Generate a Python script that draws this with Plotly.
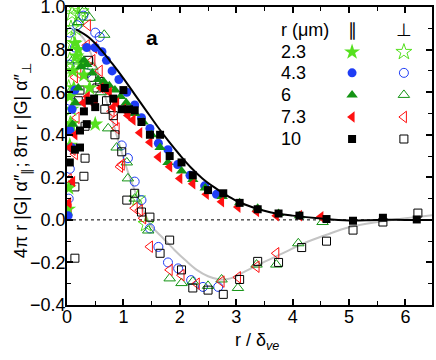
#--------------------- Packages
import plotly.graph_objects as go

#--------------------- Data
# theory curves
par_curve_x = [0.16, 0.4, 0.6, 0.8, 1.0, 1.2, 1.4, 1.6, 1.8, 2.0, 2.2, 2.4, 2.6, 2.8, 3.0, 3.3, 3.6, 4.0, 4.5, 5.0, 5.5, 6.0, 6.47]
par_curve_y = [0.895, 0.855, 0.80, 0.735, 0.665, 0.59, 0.515, 0.44, 0.37, 0.305, 0.245, 0.195, 0.155, 0.12, 0.09, 0.058, 0.036, 0.02, 0.006, -0.003, 0.0, 0.0, 0.0]
perp_curve_x = [0.12, 0.3, 0.5, 0.7, 0.9, 1.1, 1.3, 1.5, 1.7, 1.9, 2.1, 2.3, 2.5, 2.7, 2.9, 3.1, 3.4, 3.8, 4.2, 4.6, 5.0, 5.5, 6.0, 6.47]
perp_curve_y = [0.9, 0.85, 0.73, 0.56, 0.38, 0.21, 0.075, -0.03, -0.085, -0.14, -0.19, -0.235, -0.265, -0.28, -0.275, -0.25, -0.21, -0.16, -0.11, -0.07, -0.035, -0.01, 0.008, 0.022]

# r = 2.3 um
par_23_x = [0.02, 0.03, 0.05, 0.05, 0.07, 0.08, 0.1, 0.12, 0.14, 0.17, 0.2, 0.25, 0.3, 0.4, 0.5]
par_23_y = [0.05, 0.15, 0.35, 0.58, 0.45, 0.52, 0.7, 0.62, 0.83, 0.77, 0.8, 0.74, 0.68, 0.62, 0.45]
perp_23_x = [0.03, 0.05, 0.07, 0.09, 0.1, 0.12, 0.15, 0.21, 0.25, 0.1, 0.06, 1.25, 1.4]
perp_23_y = [0.62, 0.75, 0.9, 0.97, 0.83, 1.0, 0.9, 0.96, 0.98, 0.72, 0.45, 0.1, -0.02]

# r = 4.3 um
par_43_x = [0.02, 0.05, 0.08, 0.09, 0.14, 0.35, 0.5, 0.62, 0.7, 0.8, 0.92, 1.06, 1.2, 1.32, 1.47, 1.62, 1.79, 1.96, 2.18, 2.44, 2.65]
par_43_y = [0.02, 0.42, 0.34, 0.52, 0.61, 0.81, 0.81, 0.79, 0.75, 0.70, 0.66, 0.60, 0.54, 0.48, 0.43, 0.36, 0.33, 0.26, 0.21, 0.16, 0.12]
perp_43_x = [0.03, 0.05, 0.04, 0.05, 0.05, 0.14, 0.18, 0.29, 0.35, 0.5, 0.58, 0.97, 1.08, 1.2, 1.32, 1.47, 1.62, 1.79, 1.97, 2.2, 2.41, 2.68]
perp_43_y = [0.1, 0.24, 0.73, 0.56, 0.88, 0.81, 0.915, 0.96, 0.69, 0.88, 0.86, 0.35, 0.29, 0.18, 0.093, -0.04, -0.127, -0.2, -0.228, -0.283, -0.315, -0.315]

# r = 6 um
par_6_x = [0.1, 0.15, 0.2, 0.25, 0.3, 0.35, 0.45, 0.55, 0.65, 0.75, 0.85, 0.95, 1.05, 1.2, 1.35, 1.5, 1.65, 1.79, 2.03, 2.23, 2.45, 2.75, 3.06, 3.38, 3.75, 4.12]
par_6_y = [0.45, 0.55, 0.62, 0.72, 0.75, 0.73, 0.69, 0.66, 0.65, 0.63, 0.61, 0.58, 0.55, 0.5, 0.46, 0.4, 0.34, 0.27, 0.23, 0.19, 0.15, 0.11, 0.08, 0.055, 0.03, 0.02]
perp_6_x = [0.05, 0.1, 0.2, 0.3, 0.4, 0.66, 0.45, 0.6, 0.73, 0.88, 1.06, 1.08, 1.2, 1.44, 1.82, 2.03, 2.23, 2.5, 2.74, 3.03, 3.36, 3.71, 4.1, 4.53]
perp_6_y = [0.6, 0.75, 0.93, 0.985, 0.95, 0.87, 0.72, 0.6, 0.43, 0.34, 0.27, 0.195, 0.1, -0.05, -0.275, -0.297, -0.29, -0.31, -0.28, -0.32, -0.21, -0.21, -0.11, -0.01]

# r = 7.3 um
par_73_x = [0.03, 0.05, 0.1, 0.14, 0.29, 0.36, 0.5, 0.6, 0.75, 0.82, 0.88, 1.0, 1.08, 1.17, 1.29, 1.47, 1.62, 1.82, 2.0, 2.23, 2.47, 2.74, 3.03, 3.36, 3.71, 4.12, 4.5]
par_73_y = [0.08, 0.34, 0.18, 0.40, 0.55, 0.58, 0.54, 0.62, 0.60, 0.53, 0.55, 0.52, 0.49, 0.47, 0.41, 0.365, 0.295, 0.25, 0.195, 0.17, 0.12, 0.085, 0.06, 0.04, 0.02, 0.02, 0.015]
perp_73_x = [0.03, 0.03, 0.1, 0.14, 0.14, 0.17, 0.2, 0.35, 0.37, 0.48, 0.58, 0.45, 0.79, 0.85, 0.88, 0.94, 0.97, 1.2, 1.29, 1.35, 1.47, 1.82, 2.03, 2.3, 2.74, 3.03, 3.36, 3.71]
perp_73_y = [0.05, 0.19, 0.33, 0.31, 0.67, 0.48, 0.69, 0.82, 0.915, 0.81, 0.70, 0.75, 0.51, 0.47, 0.43, 0.25, 0.26, 0.055, 0.045, 0.008, -0.126, -0.235, -0.26, -0.3, -0.29, -0.27, -0.22, -0.157]

# r = 10 um
par_10_x = [0.05, 0.14, 0.23, 0.23, 0.3, 0.35, 0.4, 0.48, 0.5, 0.67, 0.82, 0.97, 1.0, 1.1, 1.2, 1.32, 1.47, 1.65, 1.82, 2.03, 2.23, 2.5, 2.77, 3.06, 3.38, 3.75, 4.12, 4.6, 5.07, 5.6, 6.2]
par_10_y = [0.27, 0.33, 0.34, 0.42, 0.51, 0.45, 0.56, 0.57, 0.53, 0.62, 0.57, 0.52, 0.61, 0.52, 0.515, 0.46, 0.40, 0.40, 0.30, 0.27, 0.21, 0.14, 0.125, 0.08, 0.05, 0.03, 0.02, 0.004, -0.004, 0.01, 0.002]
perp_10_x = [0.14, 0.14, 0.2, 0.23, 0.3, 0.32, 0.32, 0.38, 0.44, 0.53, 0.58, 0.67, 0.7, 0.82, 0.85, 0.97, 1.06, 1.2, 1.32, 1.47, 1.65, 1.82, 2.03, 2.23, 2.5, 2.77, 3.06, 3.38, 3.75, 4.16, 4.6, 5.07, 5.6, 6.22]
perp_10_y = [0.155, -0.18, 0.56, 0.61, 0.205, 0.29, 0.44, 0.75, 0.67, 0.62, 0.65, 0.52, 0.56, 0.49, 0.40, 0.32, 0.093, 0.125, 0.037, 0.013, -0.157, -0.095, -0.235, -0.32, -0.33, -0.35, -0.28, -0.195, -0.2, -0.13, -0.1, -0.048, -0.01, 0.032]

radii = ['2.3', '4.3', '6', '7.3', '10']

#--------------------- Styles
FONT = "Liberation Sans, Arial, sans-serif"
styles = [
    ('star', '#55e01e', 12),
    ('circle', '#1f3df5', 9),
    ('triangle-up', '#149414', 10),
    ('triangle-left', '#ff1010', 10),
    ('square', '#000000', 8),
]
series = [
    (par_23_x, par_23_y, perp_23_x, perp_23_y),
    (par_43_x, par_43_y, perp_43_x, perp_43_y),
    (par_6_x, par_6_y, perp_6_x, perp_6_y),
    (par_73_x, par_73_y, perp_73_x, perp_73_y),
    (par_10_x, par_10_y, perp_10_x, perp_10_y),
]

fig = go.Figure()

# zero line
fig.add_trace(go.Scatter(
    x=[0, 6.47], y=[0, 0], mode='lines',
    line=dict(color='black', width=1, dash='dot'),
    showlegend=False, hoverinfo='skip'))

# perpendicular theory (gray)
fig.add_trace(go.Scatter(
    x=perp_curve_x, y=perp_curve_y, mode='lines', line_shape='spline',
    line=dict(color='#c4c4c4', width=2), showlegend=False))

# open symbols (perpendicular)
for (sym, col, size), (px, py, ox, oy) in zip(styles, series):
    fig.add_trace(go.Scatter(
        x=ox, y=oy, mode='markers', showlegend=False,
        marker=dict(symbol=sym + '-open', size=size, color=col,
                    line=dict(width=1, color=col))))

# filled symbols (parallel)
for (sym, col, size), (px, py, ox, oy) in zip(styles, series):
    fig.add_trace(go.Scatter(
        x=px, y=py, mode='markers', showlegend=False,
        marker=dict(symbol=sym, size=size, color=col, line=dict(width=0))))

# parallel theory (black)
fig.add_trace(go.Scatter(
    x=par_curve_x, y=par_curve_y, mode='lines', line_shape='spline',
    line=dict(color='black', width=2), showlegend=False))

# legend table drawn on an overlay axis spanning the plot area
leg_rows = [0.849, 0.779, 0.705, 0.631, 0.557]
for (sym, col, size), yy in zip(styles, leg_rows):
    fig.add_trace(go.Scatter(
        x=[0.781], y=[yy], mode='markers', xaxis='x2', yaxis='y2', showlegend=False,
        marker=dict(symbol=sym, size=size, color=col, line=dict(width=0))))
    fig.add_trace(go.Scatter(
        x=[0.923], y=[yy], mode='markers', xaxis='x2', yaxis='y2', showlegend=False,
        marker=dict(symbol=sym + '-open', size=size, color=col, line=dict(width=1, color=col))))

annos = [
    dict(x=0.581, y=0.923, text='r (\u03bcm)', xanchor='left'),
    dict(x=0.781, y=0.923, text='\u2225', xanchor='center'),
    dict(x=0.923, y=0.923, text='\u22a5', xanchor='center'),
    dict(x=0.233, y=0.896, text='<b>a</b>', xanchor='center', font=dict(size=21)),
    # axis titles
    dict(x=0.455, y=-0.077, text='r / \u03b4<sub><i>ve</i></sub>', xanchor='left', yanchor='top'),
    dict(x=-0.123, y=0.483, text='4\u03c0 r |G| \u03b1\u2033<sub>\u2225</sub>; 8\u03c0 r |G| \u03b1\u2033<sub>\u22a5</sub>',
         xanchor='center', textangle=-90, font=dict(size=18)),
]
for lab, yy in zip(radii, leg_rows):
    annos.append(dict(x=0.581, y=yy, text=lab, xanchor='left'))
for a in annos:
    a.update(xref='paper', yref='paper', showarrow=False)
    a.setdefault('yanchor', 'middle')
    a.setdefault('font', dict(size=18))
    a['font'].update(family=FONT, color='black')

# Axes Parameters
fig.update_xaxes(
    range=[0, 6.47], dtick=1, tick0=0, automargin=False, ticklabeloverflow='allow',
    ticklabelstandoff=-5,
    showline=True, linecolor='black', linewidth=1.5, mirror='ticks',
    ticks='inside', ticklen=6, tickwidth=1.5, tickcolor='black',
    minor=dict(dtick=0.5, ticks='inside', ticklen=4, tickwidth=1.2, tickcolor='black'),
    showgrid=False, zeroline=False,
    tickfont=dict(size=18))

fig.update_yaxes(
    range=[-0.4, 1.0005], dtick=0.2, tick0=0, tickformat='.1f', automargin=False,
    ticklabeloverflow='allow', ticklabelstandoff=-4,
    showline=True, linecolor='black', linewidth=1.5, mirror='ticks',
    ticks='inside', ticklen=6, tickwidth=1.5, tickcolor='black',
    minor=dict(dtick=0.1, ticks='inside', ticklen=4, tickwidth=1.2, tickcolor='black'),
    showgrid=False, zeroline=False,
    tickfont=dict(size=18))

# Layout parameters
fig.update_layout(
    width=436, height=360,
    margin=dict(l=67, r=4, t=7, b=55),
    plot_bgcolor='white', paper_bgcolor='white',
    font=dict(family=FONT, color='black'),
    xaxis2=dict(overlaying='x', range=[0, 1], visible=False),
    yaxis2=dict(overlaying='y', range=[0, 1], visible=False),
    annotations=annos,
    showlegend=False)

# page body has a default 8px margin; drop it so the figure sits at the window corner
fig.write_html("out.html", config={'displayModeBar': False},
               post_script="document.body.style.margin='0';")
